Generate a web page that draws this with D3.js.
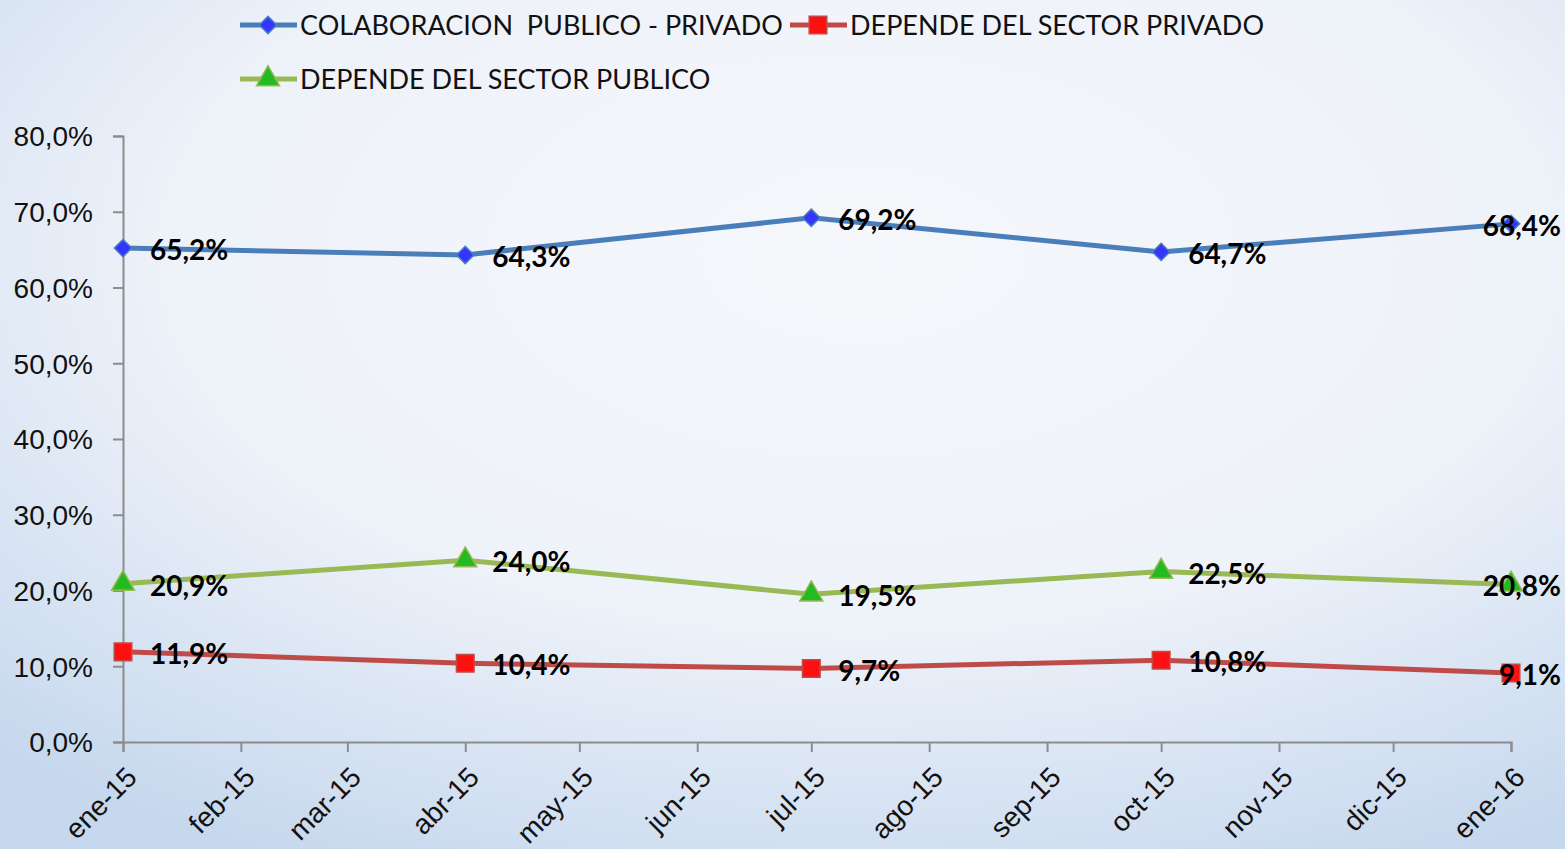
<!DOCTYPE html>
<html>
<head>
<meta charset="utf-8">
<script src="https://cdn.jsdelivr.net/npm/d3@7"></script>
<style>
  html, body { margin: 0; padding: 0; overflow: hidden; }
  svg { display: block; font-family: Lato, "Open Sans", sans-serif; }
</style>
</head>
<body>
<svg id="chart"></svg>
<script>
// data
const months = ['2015-01-01', '2015-04-01', '2015-07-01', '2015-10-01', '2016-01-01'];
const colaboracion = [65.2, 64.3, 69.2, 64.7, 68.4];
const privado = [11.9, 10.4, 9.7, 10.8, 9.1];
const publico = [20.9, 24.0, 19.5, 22.5, 20.8];
const seriesNames = ['COLABORACION  PUBLICO - PRIVADO', 'DEPENDE DEL SECTOR PRIVADO', 'DEPENDE DEL SECTOR PUBLICO'];
const monthNames = ['ene', 'feb', 'mar', 'abr', 'may', 'jun', 'jul', 'ago', 'sep', 'oct', 'nov', 'dic'];
const yTicks = [0, 10, 20, 30, 40, 50, 60, 70, 80];

const width = 1565, height = 849;
const margin = { top: 136, right: 54, bottom: 107, left: 123 };

const parse = d3.timeParse('%Y-%m-%d');
const fmtPct = d => d.toFixed(1).replace('.', ',') + '%';

const svg = d3.select('#chart').attr('width', width).attr('height', height);

// background gradient
const defs = svg.append('defs');
const bg = defs.append('radialGradient').attr('id', 'bg')
  .attr('cx', '55%').attr('cy', '30%').attr('r', '80%');
bg.append('stop').attr('offset', '0%').attr('stop-color', '#f5f7fb');
bg.append('stop').attr('offset', '55%').attr('stop-color', '#eef2f9');
bg.append('stop').attr('offset', '100%').attr('stop-color', '#c6d8ee');
svg.append('rect').attr('width', width).attr('height', height).attr('fill', 'url(#bg)');

const x = d3.scaleTime()
  .domain([parse('2015-01-01'), parse('2016-01-01')])
  .range([margin.left, width - margin.right]);

const y = d3.scaleLinear()
  .domain([0, 80])
  .range([height - margin.bottom, margin.top]);

const series = [
  { name: seriesNames[0], values: colaboracion, line: '#4a7ebb', fill: '#3535ff', shape: d3.symbolSquare, size: 150, rot: 45 },
  { name: seriesNames[1], values: privado, line: '#be4b48', fill: '#ff1010', shape: d3.symbolSquare, size: 310, rot: 0 },
  { name: seriesNames[2], values: publico, line: '#98b954', fill: '#22bb22', shape: d3.symbolTriangle, size: 230, rot: 0 }
];

// axes
const axisColor = '#8c8c8c';
const yAxis = svg.append('g')
  .attr('transform', `translate(${margin.left},0)`)
  .call(d3.axisLeft(y).tickValues(yTicks).tickSize(10).tickPadding(20).tickFormat(fmtPct));
yAxis.selectAll('text').style('font-size', '28px').attr('fill', '#111').attr('dy', '0.35em');

const xTickVals = d3.timeMonth.range(parse('2015-01-01'), parse('2016-01-02'));
const xAxis = svg.append('g')
  .attr('transform', `translate(0,${height - margin.bottom})`)
  .call(d3.axisBottom(x).tickValues(xTickVals).tickSize(10)
    .tickFormat(d => monthNames[d.getMonth()] + '-' + d3.timeFormat('%y')(d)));
xAxis.selectAll('text')
  .style('font-size', '28px')
  .attr('fill', '#111')
  .attr('text-anchor', 'end')
  .attr('transform', 'translate(-10,12) rotate(-45)')
  .attr('dy', '0.8em');

[yAxis, xAxis].forEach(a => {
  a.select('.domain').attr('stroke', axisColor).attr('stroke-width', 2);
  a.selectAll('.tick line').attr('stroke', axisColor).attr('stroke-width', 2);
});

// lines, markers, labels
const line = d3.line().x((d, i) => x(parse(months[i]))).y(d => y(d));

series.forEach(s => {
  svg.append('path')
    .datum(s.values)
    .attr('d', line)
    .attr('fill', 'none')
    .attr('stroke', s.line)
    .attr('stroke-width', 5);

  svg.append('g').selectAll('path')
    .data(s.values)
    .join('path')
    .attr('transform', (d, i) => `translate(${x(parse(months[i]))},${y(d)}) rotate(${s.rot})`)
    .attr('d', d3.symbol(s.shape, s.size))
    .attr('fill', s.fill)
    .attr('stroke', s.line)
    .attr('stroke-width', 1.5);

  svg.append('g').selectAll('text')
    .data(s.values)
    .join('text')
    .attr('x', (d, i) => i === s.values.length - 1 ? width - 4 : x(parse(months[i])) + 27)
    .attr('y', d => y(d) + 12)
    .attr('text-anchor', (d, i) => i === s.values.length - 1 ? 'end' : 'start')
    .style('font-size', '28px')
    .style('font-weight', 'bold')
    .attr('fill', '#000')
    .text(fmtPct);
});

// legend
const legendPos = [[240, 25], [790, 25], [240, 79]];
series.forEach((s, i) => {
  const [lx, ly] = legendPos[i];
  const g = svg.append('g').attr('transform', `translate(${lx},${ly})`);
  g.append('line').attr('x1', 0).attr('x2', 57).attr('y1', 0).attr('y2', 0)
    .attr('stroke', s.line).attr('stroke-width', 5);
  g.append('path').attr('transform', `translate(28,0) rotate(${s.rot})`)
    .attr('d', d3.symbol(s.shape, s.size))
    .attr('fill', s.fill).attr('stroke', s.line).attr('stroke-width', 1.5);
  g.append('text')
    .attr('x', 60).attr('y', 10)
    .attr('xml:space', 'preserve')
    .style('white-space', 'pre')
    .style('font-size', '27px')
    .attr('fill', '#111')
    .text(s.name);
});
</script>
</body>
</html>
